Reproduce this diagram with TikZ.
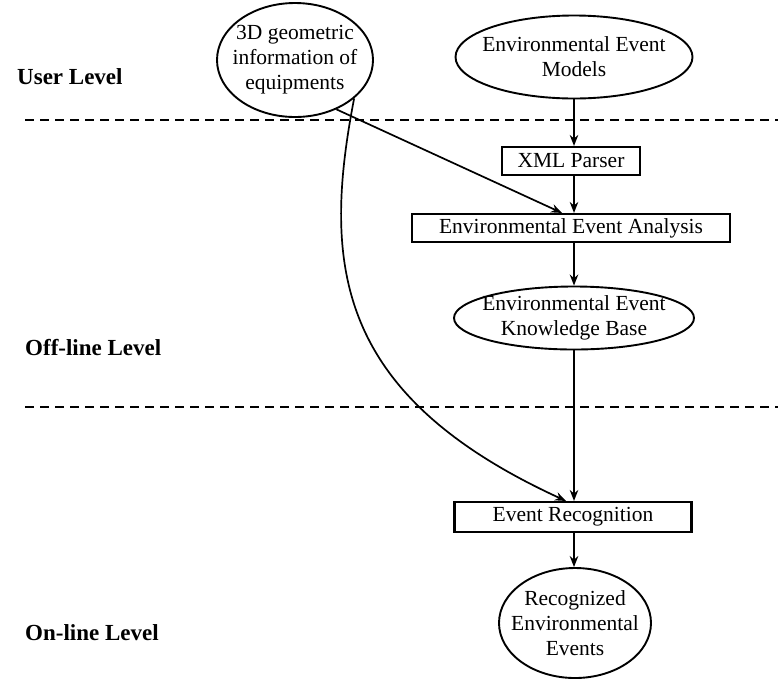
\documentclass[tikz,border=0pt]{standalone}
\usepackage{fontspec}
\setmainfont{Liberation Serif}
\usetikzlibrary{shapes.geometric,arrows.meta}
\begin{document}
\begin{tikzpicture}[x=1pt,y=-1pt,
  every node/.style={font=\fontsize{21.5}{25}\selectfont},
  ell/.style={draw, ellipse, line width=1.9pt, inner sep=0pt},
  box/.style={draw, rectangle, line width=2.1pt, inner sep=0pt},
  txt/.style={align=center, inner sep=0pt},
  lvl/.style={font=\fontsize{23}{26}\selectfont\bfseries, anchor=west, inner sep=0pt},
  arr/.style={line width=1.7pt, -{Stealth[length=11pt,width=8.5pt]}},
  sep/.style={line width=2.6pt, dash pattern=on 9pt off 6pt}]
\useasboundingbox (0,0) rectangle (778,681);

% separators
\draw[sep] (25,120) -- (778,120);
\draw[sep] (25,407) -- (778,407);

% level labels
\node[lvl] (ul) at (17,77) {User Level};
\node[lvl] (fl) at (25,348) {Off-line Level};
\node[lvl] (nl) at (25,633) {On-line Level};

% nodes
\node[ell, minimum width=156pt, minimum height=114pt] (geo) at (295,60) {};
\node[txt] (geot) at (geo) {3D geometric\\information of\\equipments};

\node[ell, minimum width=237pt, minimum height=83pt] (mod) at (574,57) {};
\node[txt] (modt) at (mod) {Environmental Event\\Models};

\node[box, minimum width=138pt, minimum height=28pt] (xml) at (571,161) {XML Parser};
\node[box, minimum width=318pt, minimum height=28pt] (ana) at (571,228) {Environmental Event Analysis};

\node[ell, minimum width=240pt, minimum height=63pt] (kb) at (574,318) {};
\node[txt] (kbt) at (kb) {Environmental Event\\Knowledge Base};

\node[box, minimum width=237pt, minimum height=30pt] (er) at (573,517) {Event Recognition};

\node[ell, minimum width=152pt, minimum height=110pt] (rec) at (575,623) {};
\node[txt] (rect) at (rec) {Recognized\\Environmental\\Events};

% connectors
\draw[arr] (mod.south -| 574,0) -- (xml.north -| 574,0);
\draw[arr] (xml.south -| 574,0) -- (ana.north -| 574,0);
\draw[arr] (ana.south -| 574,0) -- (kb.north -| 574,0);
\draw[arr] (kb.south -| 574,0) -- (er.north -| 574,0);
\draw[arr] (er.south -| 574,0) -- (rec.north -| 574,0);
\draw[arr] (geo.-50) -- ([xshift=-12pt]ana.north -| 574,0);
\draw[arr] (geo.-33) .. controls (322,265) and (335,395) .. ([xshift=-8pt]er.north -| 574,0);
\end{tikzpicture}
\end{document}
